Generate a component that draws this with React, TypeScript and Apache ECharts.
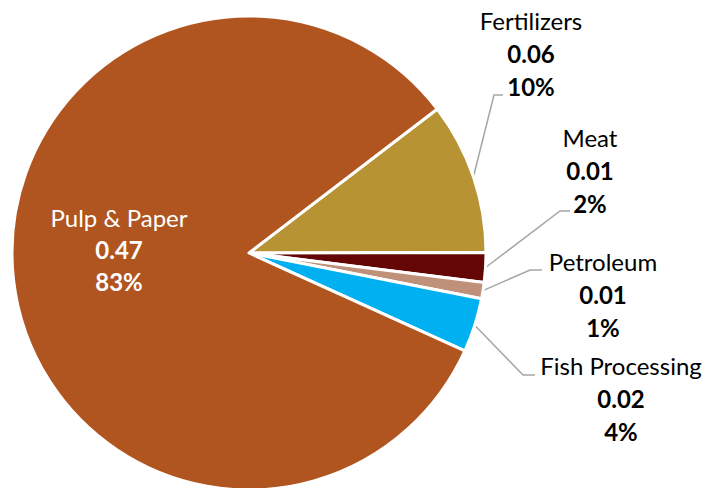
import React, { useEffect, useRef } from 'react';
import * as echarts from 'echarts';

const categories = ['Fertilizers', 'Meat', 'Petroleum', 'Fish Processing', 'Pulp & Paper'];
const values = [0.059, 0.0115, 0.0063, 0.021, 0.472];
const valueLabels = ['0.06', '0.01', '0.01', '0.02', '0.47'];
const percentLabels = ['10%', '2%', '1%', '4%', '83%'];
const colors = ['#B79334', '#650606', '#C0917A', '#00B0F0', '#B05520'];

// label block anchors (center x, top y) and leader-line elbows
const labelAnchors: number[][] = [[531, 4], [590, 121], [603, 245], [621, 349], [119, 201]];
const elbows: (number[][] | null)[] = [
  [[494, 95], [503, 95]],
  [[560, 211], [570, 211]],
  [[530, 270], [542, 270]],
  [[523, 375], [535, 375]],
  null,
];

export default function App() {
  const ref = useRef<HTMLDivElement>(null);
  useEffect(() => {
    if (!ref.current) return;
    const chart = echarts.init(ref.current, null, { renderer: 'svg' });
    const data = categories.map((name, i) => {
      const inside = name === 'Pulp & Paper';
      return {
        name,
        value: values[i],
        itemStyle: { color: colors[i] },
        label: inside
          ? {
              position: 'inside',
              color: '#FFFFFF',
              rich: {
                n: { color: '#fff', fontSize: 24, fontFamily: 'Lato', lineHeight: 32, align: 'center' },
                v: { color: '#fff', fontSize: 24, fontFamily: 'Lato', lineHeight: 32, align: 'center' },
              },
            }
          : { position: 'outside' },
        labelLine: { show: !inside },
      };
    });
    chart.setOption({
      animation: false,
      backgroundColor: '#FFFFFF',
      series: [
        {
          type: 'pie',
          center: [249, 253],
          radius: [0, 237],
          startAngle: 37.4,
          clockwise: true,
          avoidLabelOverlap: false,
          data,
          itemStyle: { borderColor: '#FFFFFF', borderWidth: 3 },
          label: {
            show: true,
            fontFamily: 'Lato',
            formatter: (p: any) => {
              const i = p.dataIndex;
              return `{n|${p.name}}\n{v|${valueLabels[i]}}\n{v|${percentLabels[i]}}`;
            },
            rich: {
              n: { fontFamily: 'Lato', fontSize: 24, color: '#000', lineHeight: 33, align: 'center' },
              v: { fontFamily: 'Lato', fontSize: 24, fontWeight: 'bold', color: '#000', lineHeight: 33, align: 'center' },
            },
          },
          labelLine: { show: true, lineStyle: { color: '#A6A6A6', width: 1.5 } },
          labelLayout: (params: any) => {
            const i = params.dataIndex;
            const a = labelAnchors[i];
            const res: any = { x: a[0], y: a[1], align: 'center', verticalAlign: 'top' };
            const e = elbows[i];
            if (e && params.labelLinePoints) {
              res.labelLinePoints = [params.labelLinePoints[0], e[0], e[1]];
            }
            return res;
          },
        },
      ],
    });
    return () => chart.dispose();
  }, []);
  return <div ref={ref} style={{ position: 'fixed', left: 0, top: 0, width: 707, height: 488 }} />;
}
